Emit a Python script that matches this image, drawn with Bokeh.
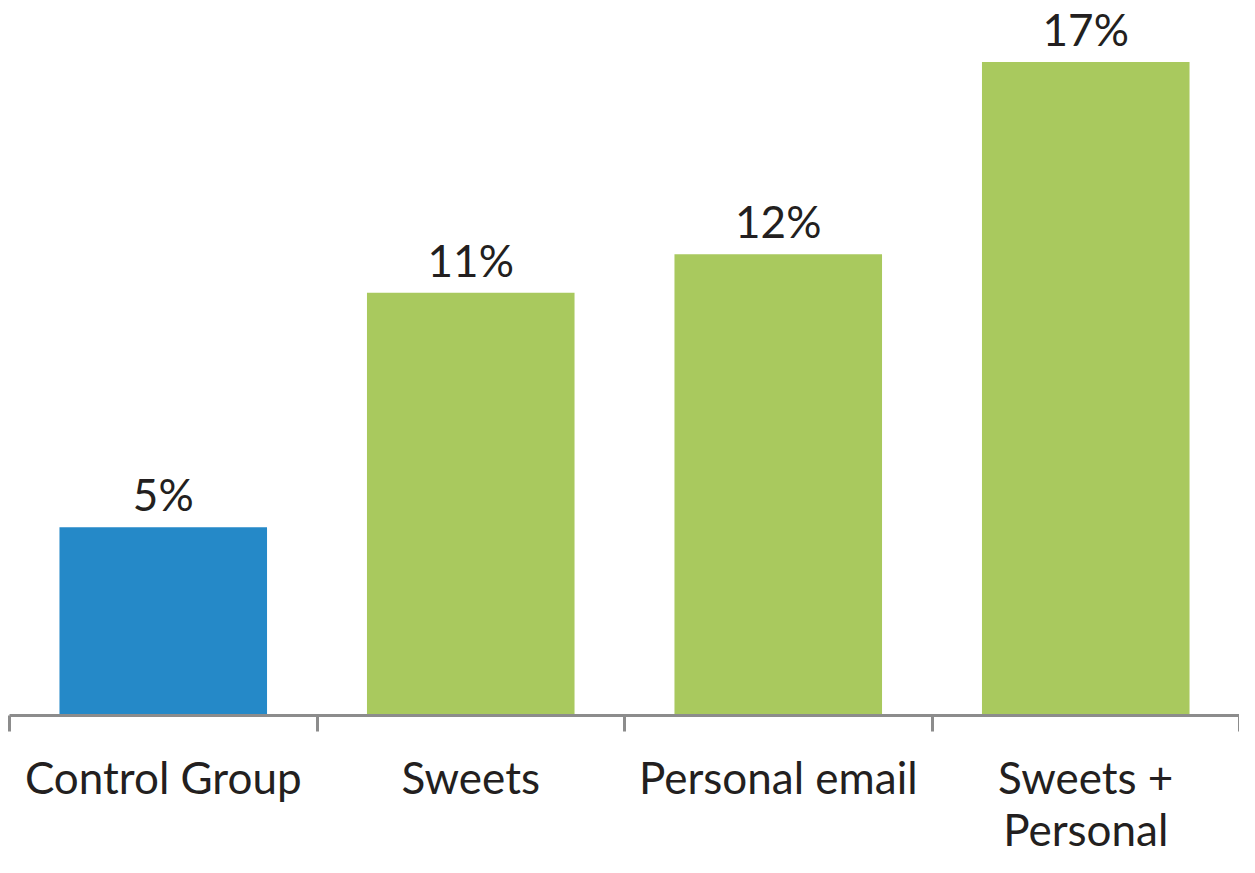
from bokeh.plotting import figure
from bokeh.models import ColumnDataSource, Range1d, LinearAxis, FixedTicker
from bokeh.embed import file_html
from bokeh.resources import INLINE
from bokeh.core.properties import value

categories = ["Control Group", "Sweets", "Personal email", "Sweets + Personal"]
tick_labels = ["Control Group", "Sweets", "Personal email", "Sweets +\nPersonal"]
values = [4.9, 11.0, 12.0, 17.0]
colors = ["#2589C8", "#A9C95E", "#A9C95E", "#A9C95E"]
labels = [f"{round(v)}%" for v in values]

FONT = "Lato"

pos = [i + 0.5 for i in range(len(categories))]
bounds = list(range(len(categories) + 1))
src = ColumnDataSource(dict(x=pos, cat=categories, val=values, col=colors, lab=labels))

p = figure(width=1239, height=857, x_range=Range1d(0, len(categories)), y_range=Range1d(0, 18.6),
           output_backend="svg", toolbar_location=None,
           x_axis_location=None, y_axis_location=None,
           min_border_left=9, min_border_right=0, min_border_top=0, min_border_bottom=0)
p.outline_line_color = None
p.xgrid.visible = False
p.ygrid.visible = False
p.background_fill_color = "white"
p.border_fill_color = "white"

p.vbar(x="x", top="val", width=0.675, fill_color="col", line_color=None, source=src)
p.text(x="x", y="val", text="lab", source=src, text_align="center", text_baseline="alphabetic",
       y_offset=-33, text_font=value(FONT), text_font_size="44px", text_color="#231f20")

axis = LinearAxis(ticker=FixedTicker(ticks=pos, minor_ticks=bounds),
                  axis_line_color="#8c8c8c", axis_line_width=3,
                  major_tick_line_color=None, major_tick_out=16, major_tick_in=0,
                  minor_tick_line_color="#8c8c8c", minor_tick_line_width=3,
                  minor_tick_out=16, minor_tick_in=0,
                  major_label_text_font=FONT, major_label_text_font_size="44px",
                  major_label_text_color="#231f20", major_label_standoff=19,
                  major_label_text_line_height=1.0,
                  major_label_overrides={x: t for x, t in zip(pos, tick_labels)})
p.add_layout(axis, "below")

open("out.html", "w").write(file_html(p, INLINE))
